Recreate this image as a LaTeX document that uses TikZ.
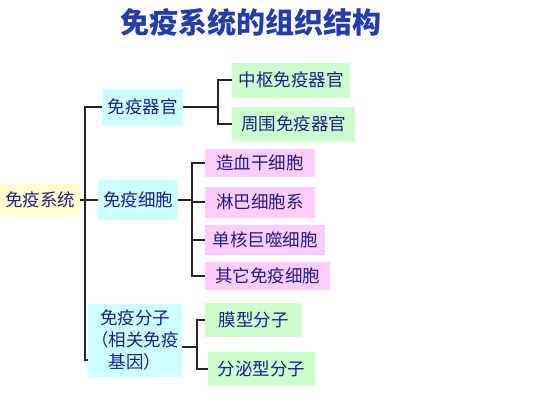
\documentclass[tikz,border=0pt]{standalone}
\usepackage{fontspec}
\newfontfamily\cjk{Noto Sans CJK SC}
\definecolor{textblue}{RGB}{30,30,140}
\definecolor{titleblue}{RGB}{35,60,175}
\definecolor{sysyellow}{RGB}{255,255,204}
\definecolor{groupcyan}{RGB}{204,255,255}
\definecolor{leafgreen}{RGB}{204,255,204}
\definecolor{cellpink}{RGB}{255,204,255}

\begin{document}
\begin{tikzpicture}[x=1pt,y=-1pt,
    box/.style={inner sep=0pt, text=textblue, font=\cjk\fontsize{17.5}{22}\selectfont},
    sysbox/.style={box, fill=sysyellow},
    groupbox/.style={box, fill=groupcyan},
    leafbox/.style={box, fill=leafgreen},
    cellbox/.style={box, fill=cellpink},
    link/.style={line width=1.5pt, black!85}]
    \useasboundingbox (0,0) rectangle (533,400);
    \node[font=\cjk\bfseries\fontsize{29}{32}\selectfont, text=titleblue] (title) at (251,22) {免疫系统的组织结构};

    \node[sysbox, anchor=west, minimum width=80pt, minimum height=32pt] at (0,200) (sys) {免疫系统};
    \node[groupbox, anchor=west, minimum width=81pt, minimum height=37pt] at (102,107) (organ) {免疫器官};
    \node[groupbox, anchor=west, minimum width=80pt, minimum height=40pt] at (98,200) (cells) {免疫细胞};
    \node[groupbox, anchor=west, minimum width=94pt, minimum height=73pt, align=center] at (88,340) (mol) {免疫分子\\（相关免疫\\基因）};

    \node[leafbox, anchor=west, minimum width=118pt, minimum height=35pt] at (232,80) (central) {中枢免疫器官};
    \node[leafbox, anchor=west, minimum width=123pt, minimum height=35pt] at (232,124) (periph) {周围免疫器官};

    \node[cellbox, anchor=west, minimum width=110pt, minimum height=28pt] at (205,163) (stem) {造血干细胞};
    \node[cellbox, anchor=west, minimum width=110pt, minimum height=31pt] at (205,202) (lymph) {淋巴细胞系};
    \node[cellbox, anchor=west, minimum width=120pt, minimum height=30pt] at (205,240) (mono) {单核巨噬细胞};
    \node[cellbox, anchor=west, minimum width=125pt, minimum height=28pt] at (205,276) (other) {其它免疫细胞};

    \node[leafbox, anchor=west, minimum width=97pt, minimum height=34pt] at (205,320) (memb) {膜型分子};
    \node[leafbox, anchor=west, minimum width=107pt, minimum height=34pt] at (208,369) (secr) {分泌型分子};

    \coordinate (busTop) at (85,107);
    \coordinate (busBot) at (85,360);
    \coordinate (jOrgan) at (218,107);
    \coordinate (jCell) at (192,200);
    \coordinate (jMol) at (197,347);

    \draw [link] (organ.west) -- (busTop) -- (busBot) -- (mol.west |- busBot);
    \draw [link] (sys) -- (cells);
    \draw [link] (organ.east) -- (jOrgan);
    \draw [link] (central.west) -| (jOrgan) |- (periph.west);
    \draw [link] (cells.east) -- (jCell);
    \draw [link] (stem.west) -| (jCell) |- (other.west);
    \draw [link] (lymph.west) -- (lymph.west -| jCell);
    \draw [link] (mono.west) -- (mono.west -| jCell);
    \draw [link] (mol.east |- jMol) -- (jMol);
    \draw [link] (memb.west) -| (jMol) |- (secr.west);
\end{tikzpicture}
\end{document}
